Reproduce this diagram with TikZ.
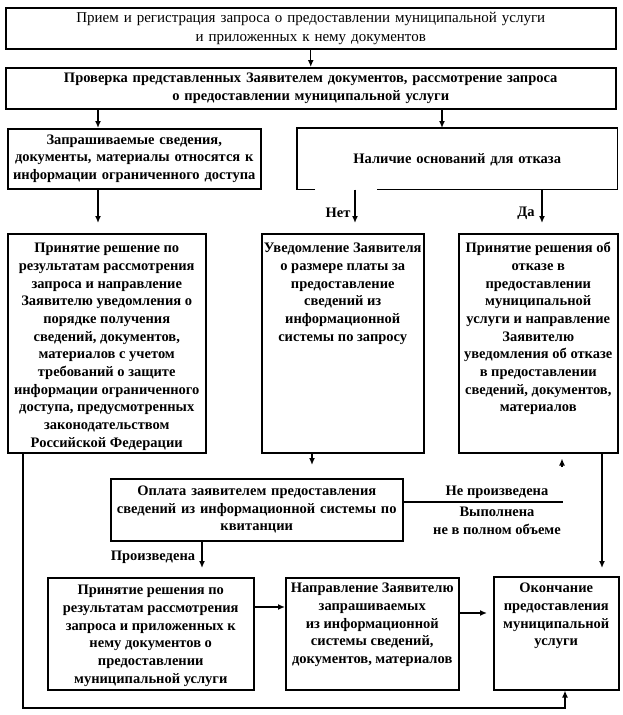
\documentclass[tikz,border=0pt]{standalone}
\usepackage{fontspec}
\setmainfont{Liberation Serif}
\usetikzlibrary{arrows.meta,calc}
\newcommand\toptext[4]{\parbox[c][#2pt][t]{#1pt}{\centering\vspace*{#3pt}\strut #4}}
\tikzset{
  txt/.style={font=\fontsize{14.5}{17.7}\selectfont\bfseries},
  box/.style={txt, draw, line width=1.5pt, inner sep=0pt, anchor=north west, align=center},
  boxline/.style={line width=1.5pt},
  ln/.style={line width=1.4pt},
  arr/.style={ln, -{Latex[length=7pt,width=6pt]}},
  lab/.style={txt, inner sep=0pt},
}
\begin{document}
\begin{tikzpicture}[x=1pt,y=-1pt]
\useasboundingbox (0,0) rectangle (623,715);
% boxes
\node[box, font=\fontsize{15}{19}\selectfont, minimum width=610pt, text width=610pt, minimum height=41pt] (b1) at (5,7)
  {Прием и регистрация запроса о предоставлении муниципальной услуги\\и приложенных к нему документов};
\node[box, minimum width=610pt, text width=610pt, minimum height=41pt] (b2) at (5,67)
  {Проверка представленных Заявителем документов, рассмотрение запроса\\о предоставлении муниципальной услуги};
\node[box, minimum width=253pt, text width=253pt, minimum height=60pt] (b3) at (7,128)
  {Запрашиваемые сведения,\\документы, материалы относятся к\\информации ограниченного доступа};
\node[box, draw=none, minimum width=319pt, text width=319pt, minimum height=60pt, text depth=-3pt] (b4) at (297,128)
  {Наличие оснований для отказа};
\draw[boxline] ($(b4.south west)+(18,0)$) -- (b4.south west) -- (b4.north west) -- (b4.north east) -- (b4.south east) -- ($(b4.south west)+(80,0)$);
\node[box] (b5) at (7,233) {\toptext{198}{219}{6.5}{Принятие решение по\\результатам рассмотрения\\запроса и направление\\Заявителю уведомления о\\порядке получения\\сведений, документов,\\материалов с учетом\\требований о защите\\информации ограниченного\\доступа, предусмотренных\\законодательством\\Российской Федерации}};
\node[box] (b6) at (261,233) {\toptext{162}{219}{6.5}{Уведомление Заявителя\\о размере платы за\\предоставление\\сведений из\\информационной\\системы по запросу}};
\node[box] (b7) at (458,233) {\toptext{159}{219}{6.5}{Принятие решения об\\отказе в\\предоставлении\\муниципальной\\услуги и направление\\Заявителю\\уведомления об отказе\\в предоставлении\\сведений, документов,\\материалов}};
\node[box, minimum width=292pt, text width=292pt, minimum height=62pt] (b8) at (110,478)
  {Оплата заявителем предоставления\\сведений из информационной системы по\\квитанции};
\node[box] (b9) at (47,577) {\toptext{206}{112}{4.5}{Принятие решения по\\результатам рассмотрения\\запроса и приложенных к\\нему документов о\\предоставлении\\муниципальной услуги}};
\node[box] (b10) at (285,577) {\toptext{173}{112}{2.5}{Направление Заявителю\\запрашиваемых\\из информационной\\системы сведений,\\документов, материалов}};
\node[box] (b11) at (493,576) {\toptext{125}{113}{3.5}{Окончание\\предоставления\\муниципальной\\услуги}};
% labels
\node[lab] (lnet) at (338,213) {Нет};
\node[lab] (lda) at (526,213) {Да};
\node[lab] (lpaid) at (153,557) {Произведена};
\node[lab] (lnotpaid) at (497,492) {Не произведена};
\node[lab, align=center, font=\fontsize{14.5}{17.7}\selectfont\bfseries] (lpart) at (497,521) {Выполнена\\не в полном объеме};
% helper coordinates
\coordinate (xa) at (98,0);
\coordinate (xb) at (442,0);
\coordinate (xnet) at (355,0);
\coordinate (xda) at (542,0);
\coordinate (xc) at (312,0);
\coordinate (xd) at (602,0);
\coordinate (xe) at (202,0);
\coordinate (xf) at (23,0);
\coordinate (notend) at (563,502);
\coordinate (tipbase) at (562,467);
\coordinate (loopl) at (23,708);
\coordinate (loopr) at (565,708);
% connectors
\draw[arr] (b1.south) -- (b2.north);
\draw[arr] (xa |- b2.south) -- (xa |- b3.north);
\draw[arr] (xb |- b2.south) -- (xb |- b4.north);
\draw[arr, shorten >=10pt] (xa |- b3.south) -- (xa |- b5.north);
\draw[arr, shorten >=10pt] (xnet |- b4.south) -- (xnet |- b6.north);
\draw[arr, shorten >=10pt] (xda |- b4.south) -- (xda |- b7.north);
\draw[arr, shorten >=13pt] (xc |- b6.south) -- (xc |- b8.north);
\draw[arr, shorten >=8pt] (xd |- b7.south) -- (xd |- b11.north);
\draw[arr, shorten >=9pt] (xe |- b8.south) -- (xe |- b9.north);
\draw[ln] (b8.east |- notend) -- (notend);
\draw[arr, shorten >=5pt] (tipbase) -- (tipbase |- b7.south);
\draw[arr] (b9.east |- 0,607) -- (b10.west |- 0,607);
\draw[arr, shorten >=6pt] (b10.east |- 0,613) -- (b11.west |- 0,613);
\draw[arr] (xf |- b5.south) -- (loopl) -- (loopr) -- (loopr |- b11.south);
\end{tikzpicture}
\end{document}
